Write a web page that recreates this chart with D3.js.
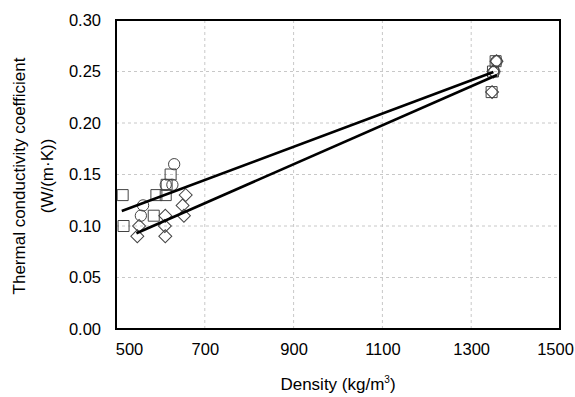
<!DOCTYPE html>
<html>
<head>
<meta charset="utf-8">
<script src="https://cdn.jsdelivr.net/npm/d3@7"></script>
<style>
  body { margin: 0; background: #fff; }
  svg { display: block; }
  text { font-family: "Liberation Sans", Arial, sans-serif; fill: #000; }
</style>
</head>
<body>
<svg id="chart" width="575" height="397"></svg>
<script>
// ---- data ----
const xTicks = [500, 700, 900, 1100, 1300, 1500];
const yTicks = [0.00, 0.05, 0.10, 0.15, 0.20, 0.25, 0.30];

const squaresX = [515, 517, 591, 585, 623, 614, 612, 1355, 1349, 1346];
const squaresY = [0.13, 0.10, 0.13, 0.11, 0.15, 0.14, 0.13, 0.26, 0.25, 0.23];

const circlesX = [561, 556, 631, 612, 627, 1352, 1357];
const circlesY = [0.12, 0.11, 0.16, 0.14, 0.14, 0.25, 0.26];

const diamondsX = [552, 548, 611, 610, 611, 650, 653, 657, 1357, 1350, 1347];
const diamondsY = [0.10, 0.09, 0.11, 0.10, 0.09, 0.12, 0.11, 0.13, 0.26, 0.25, 0.23];

const fit1X = [513, 1350];
const fit1Y = [0.1146, 0.2495];
const fit2X = [546, 1358];
const fit2Y = [0.093, 0.2466];

// ---- layout ----
const svg = d3.select("#chart");
const L = 116, R = 560, T = 20, B = 329;
const x = d3.scaleLinear().domain([500, 1500]).range([L, R]);
const y = d3.scaleLinear().domain([0, 0.30]).range([B, T]);

// gridlines
svg.append("g").selectAll("line").data(yTicks.slice(1, -1)).join("line")
  .attr("x1", L).attr("x2", R)
  .attr("y1", d => y(d)).attr("y2", d => y(d))
  .attr("stroke", "#c8c8c8").attr("stroke-width", 1).attr("stroke-dasharray", "3,3");
svg.append("g").selectAll("line").data(xTicks.slice(1, -1)).join("line")
  .attr("y1", T).attr("y2", B)
  .attr("x1", d => x(d)).attr("x2", d => x(d))
  .attr("stroke", "#c8c8c8").attr("stroke-width", 1).attr("stroke-dasharray", "3,3");

// axes
const xAxis = svg.append("g").attr("transform", `translate(0,${B})`)
  .call(d3.axisBottom(x).tickValues(xTicks).tickFormat(d3.format("d")).tickSize(0).tickPadding(14));
xAxis.select(".domain").remove();
xAxis.selectAll("text").attr("font-size", "16.5px")
  .attr("font-family", "'Liberation Sans', Arial, sans-serif")
  .attr("dx", d => d === 500 ? 13 : (d === 1500 ? -5 : 0));

const yAxis = svg.append("g").attr("transform", `translate(${L},0)`)
  .call(d3.axisLeft(y).tickValues(yTicks).tickFormat(d3.format(".2f")).tickSize(0).tickPadding(15));
yAxis.select(".domain").remove();
yAxis.selectAll("text").attr("font-size", "16.5px")
  .attr("font-family", "'Liberation Sans', Arial, sans-serif");

// markers
const mk = (X, Y) => X.map((v, i) => [v, Y[i]]);
const markerStroke = "#444";
svg.append("g").selectAll("path").data(mk(squaresX, squaresY)).join("path")
  .attr("d", d3.symbol(d3.symbolSquare, 121))
  .attr("transform", d => `translate(${x(d[0])},${y(d[1])})`)
  .attr("fill", "none").attr("stroke", markerStroke).attr("stroke-width", 1);
svg.append("g").selectAll("path").data(mk(circlesX, circlesY)).join("path")
  .attr("d", d3.symbol(d3.symbolCircle, 100))
  .attr("transform", d => `translate(${x(d[0])},${y(d[1])})`)
  .attr("fill", "none").attr("stroke", markerStroke).attr("stroke-width", 1);
svg.append("g").selectAll("path").data(mk(diamondsX, diamondsY)).join("path")
  .attr("d", d3.symbol(d3.symbolSquare, 84))
  .attr("transform", d => `translate(${x(d[0])},${y(d[1])}) rotate(45)`)
  .attr("fill", "none").attr("stroke", markerStroke).attr("stroke-width", 1);

// fit lines
const line = d3.line().x(d => x(d[0])).y(d => y(d[1]));
[mk(fit1X, fit1Y), mk(fit2X, fit2Y)].forEach(pts => {
  svg.append("path").datum(pts).attr("d", line)
    .attr("fill", "none").attr("stroke", "#000").attr("stroke-width", 2.6);
});

// plot border
svg.append("rect").attr("x", L).attr("y", T).attr("width", R - L).attr("height", B - T)
  .attr("fill", "none").attr("stroke", "#000").attr("stroke-width", 2);

// axis titles
const xt = svg.append("text").attr("x", (L + R) / 2).attr("y", 390)
  .attr("text-anchor", "middle").attr("font-size", "17px");
xt.append("tspan").text("Density (kg/m");
xt.append("tspan").text("3").attr("font-size", "10px").attr("dy", -7);
xt.append("tspan").text(")").attr("dy", 7);

const yt = svg.append("text").attr("transform", `translate(25,176) rotate(-90)`)
  .attr("text-anchor", "middle").attr("font-size", "17px");
yt.append("tspan").attr("x", 0).attr("y", 0).text("Thermal conductivity coefficient");
yt.append("tspan").attr("x", 0).attr("y", 28).text("(W/(m·K))");
</script>
</body>
</html>
